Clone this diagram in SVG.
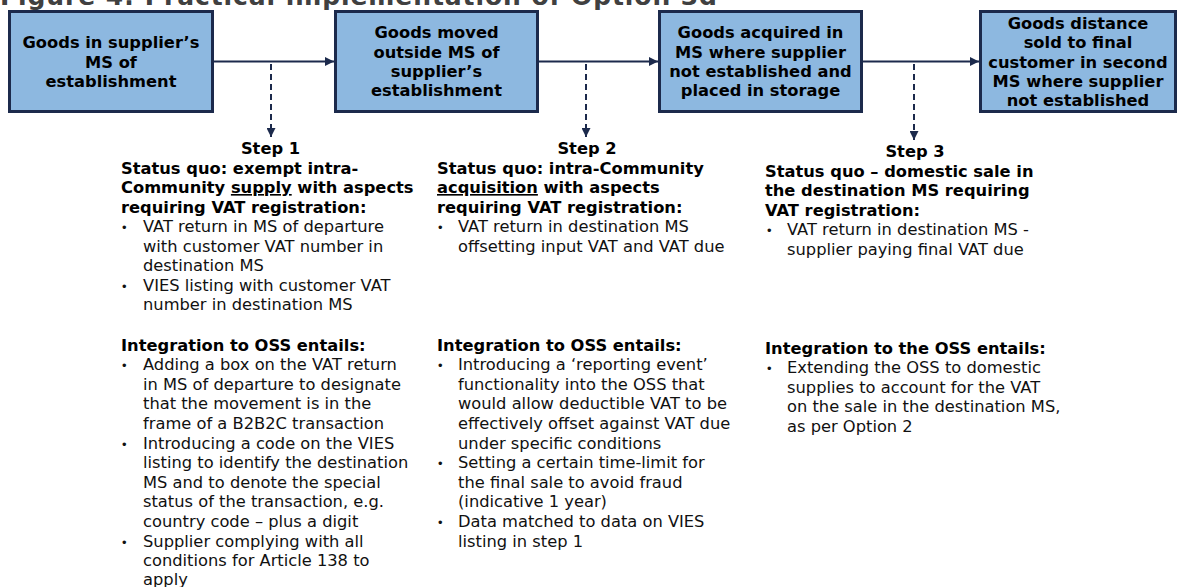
<svg xmlns="http://www.w3.org/2000/svg" width="1181" height="587" viewBox="0 0 1181 587">
<style>
  .title { font-family: "DejaVu Sans", Verdana, sans-serif; font-weight: bold; font-size: 25px; fill: #404040; }
  .box { fill: #8DB8E0; stroke: #1C2A4C; stroke-width: 3; }
  .bt { font-family: "DejaVu Sans", Verdana, sans-serif; font-weight: bold; font-size: 16.3px; fill: #000; text-anchor: middle; }
  .h { font-family: "DejaVu Sans", Verdana, sans-serif; font-weight: bold; font-size: 16.3px; fill: #000; }
  .t { font-family: "DejaVu Sans", Verdana, sans-serif; font-size: 16.3px; fill: #111; }
  .b { font-family: "Liberation Sans", Arial, sans-serif; font-size: 13px; fill: #111; }
  .step { text-anchor: middle; }
  .u { text-decoration: underline; }
  .arrow { stroke: #1C2A4C; stroke-width: 2; fill: none; }
  .dash { stroke: #1C2A4C; stroke-width: 2; fill: none; stroke-dasharray: 6 4; }
</style>
<defs>
  <marker id="ah" viewBox="0 0 10 10" refX="10" refY="5" markerWidth="10" markerHeight="9" markerUnits="userSpaceOnUse" orient="auto">
    <path d="M0,0 L10,5 L0,10 Z" fill="#1C2A4C"/>
  </marker>
  <marker id="dh" viewBox="0 0 10 10" refX="10" refY="5" markerWidth="9" markerHeight="9" markerUnits="userSpaceOnUse" orient="auto">
    <path d="M0,0 L10,5 L0,10 Z" fill="#1C2A4C"/>
  </marker>
</defs>

<text class="title" x="0" y="5" textLength="717" lengthAdjust="spacing">Figure 4: Practical implementation of Option 3d</text>

<g id="connectors">
  <line class="arrow" x1="214" y1="61.5" x2="334" y2="61.5" marker-end="url(#ah)"/>
  <line class="arrow" x1="539" y1="61.5" x2="658" y2="61.5" marker-end="url(#ah)"/>
  <line class="arrow" x1="863" y1="61.5" x2="979" y2="61.5" marker-end="url(#ah)"/>
  <line class="dash" x1="271" y1="64" x2="271" y2="137" marker-end="url(#dh)"/>
  <line class="dash" x1="586" y1="64" x2="586" y2="137" marker-end="url(#dh)"/>
  <line class="dash" x1="914" y1="64" x2="914" y2="140" marker-end="url(#dh)"/>
</g>

<g id="node1">
  <rect class="box" x="9.5" y="11.5" width="203" height="100"/>
  <text class="bt" x="111" y="48">Goods in supplier’s</text>
  <text class="bt" x="111" y="67.5">MS of</text>
  <text class="bt" x="111" y="87">establishment</text>
</g>

<g id="node2">
  <rect class="box" x="335.5" y="11.5" width="202" height="100"/>
  <text class="bt" x="436.5" y="38">Goods moved</text>
  <text class="bt" x="436.5" y="57.5">outside MS of</text>
  <text class="bt" x="436.5" y="77">supplier’s</text>
  <text class="bt" x="436.5" y="96">establishment</text>
</g>

<g id="node3">
  <rect class="box" x="659.5" y="11.5" width="202" height="100"/>
  <text class="bt" x="760.5" y="38">Goods acquired in</text>
  <text class="bt" x="760.5" y="57.5">MS where supplier</text>
  <text class="bt" x="760.5" y="77">not established and</text>
  <text class="bt" x="760.5" y="96">placed in storage</text>
</g>

<g id="node4">
  <rect class="box" x="980.5" y="11.5" width="195" height="100"/>
  <text class="bt" x="1078" y="28.5">Goods distance</text>
  <text class="bt" x="1078" y="48">sold to final</text>
  <text class="bt" x="1078" y="67.5">customer in second</text>
  <text class="bt" x="1078" y="86.5">MS where supplier</text>
  <text class="bt" x="1078" y="106">not established</text>
</g>

<g id="step1">
  <text class="h step" x="270.5" y="154">Step 1</text>
  <text class="h" x="121" y="173.5">Status quo: exempt intra-</text>
  <text class="h" x="121" y="193">Community <tspan class="u">supply</tspan> with aspects</text>
  <text class="h" x="121" y="212.5">requiring VAT registration:</text>
  <text class="b" x="122" y="232">•</text>
  <text class="t" x="143" y="232">VAT return in MS of departure</text>
  <text class="t" x="143" y="251.5">with customer VAT number in</text>
  <text class="t" x="143" y="271">destination MS</text>
  <text class="b" x="122" y="290.5">•</text>
  <text class="t" x="143" y="290.5">VIES listing with customer VAT</text>
  <text class="t" x="143" y="310">number in destination MS</text>

  <text class="h" x="121" y="350.5">Integration to OSS entails:</text>
  <text class="b" x="122" y="370.1">•</text>
  <text class="t" x="143" y="370.1">Adding a box on the VAT return</text>
  <text class="t" x="143" y="389.7">in MS of departure to designate</text>
  <text class="t" x="143" y="409.3">that the movement is in the</text>
  <text class="t" x="143" y="428.9">frame of a B2B2C transaction</text>
  <text class="b" x="122" y="448.5">•</text>
  <text class="t" x="143" y="448.5">Introducing a code on the VIES</text>
  <text class="t" x="143" y="468.1">listing to identify the destination</text>
  <text class="t" x="143" y="487.7">MS and to denote the special</text>
  <text class="t" x="143" y="507.3">status of the transaction, e.g.</text>
  <text class="t" x="143" y="526.9">country code – plus a digit</text>
  <text class="b" x="122" y="546.5">•</text>
  <text class="t" x="143" y="546.5">Supplier complying with all</text>
  <text class="t" x="143" y="566.1">conditions for Article 138 to</text>
  <text class="t" x="143" y="585">apply</text>
</g>

<g id="step2">
  <text class="h step" x="587" y="154">Step 2</text>
  <text class="h" x="437" y="173.5">Status quo: intra-Community</text>
  <text class="h" x="437" y="193"><tspan class="u">acquisition</tspan> with aspects</text>
  <text class="h" x="437" y="212.5">requiring VAT registration:</text>
  <text class="b" x="438" y="232">•</text>
  <text class="t" x="458" y="232">VAT return in destination MS</text>
  <text class="t" x="458" y="251.5">offsetting input VAT and VAT due</text>

  <text class="h" x="437" y="350.5">Integration to OSS entails:</text>
  <text class="b" x="438" y="370.1">•</text>
  <text class="t" x="458" y="370.1">Introducing a ‘reporting event’</text>
  <text class="t" x="458" y="389.7">functionality into the OSS that</text>
  <text class="t" x="458" y="409.3">would allow deductible VAT to be</text>
  <text class="t" x="458" y="428.9">effectively offset against VAT due</text>
  <text class="t" x="458" y="448.5">under specific conditions</text>
  <text class="b" x="438" y="468.1">•</text>
  <text class="t" x="458" y="468.1">Setting a certain time-limit for</text>
  <text class="t" x="458" y="487.7">the final sale to avoid fraud</text>
  <text class="t" x="458" y="507.3">(indicative 1 year)</text>
  <text class="b" x="438" y="526.9">•</text>
  <text class="t" x="458" y="526.9">Data matched to data on VIES</text>
  <text class="t" x="458" y="546.5">listing in step 1</text>
</g>

<g id="step3">
  <text class="h step" x="915" y="157">Step 3</text>
  <text class="h" x="765" y="176.6">Status quo – domestic sale in</text>
  <text class="h" x="765" y="196.2">the destination MS requiring</text>
  <text class="h" x="765" y="215.8">VAT registration:</text>
  <text class="b" x="767" y="235.4">•</text>
  <text class="t" x="787" y="235.4">VAT return in destination MS -</text>
  <text class="t" x="787" y="255">supplier paying final VAT due</text>

  <text class="h" x="765" y="353.5">Integration to the OSS entails:</text>
  <text class="b" x="767" y="373.1">•</text>
  <text class="t" x="787" y="373.1">Extending the OSS to domestic</text>
  <text class="t" x="787" y="392.7">supplies to account for the VAT</text>
  <text class="t" x="787" y="412.3">on the sale in the destination MS,</text>
  <text class="t" x="787" y="431.9">as per Option 2</text>
</g>
</svg>
